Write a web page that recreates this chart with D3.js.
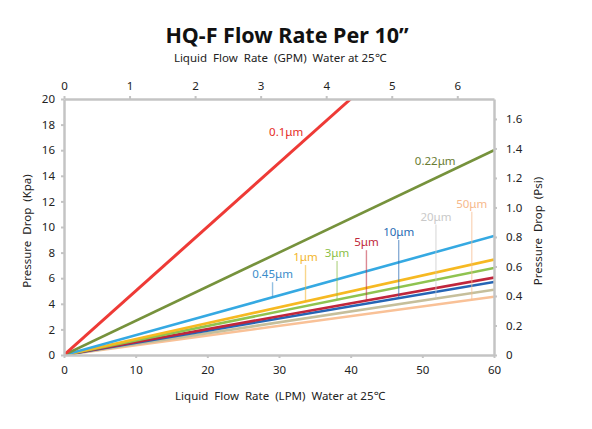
<!DOCTYPE html>
<html>
<head>
<meta charset="utf-8">
<script src="https://cdn.jsdelivr.net/npm/d3@7"></script>
<style>
  html, body { margin: 0; padding: 0; background: #fff; }
  svg { display: block; }
  text { font-family: "Noto Sans", "Open Sans", sans-serif; }
</style>
</head>
<body>
<svg id="chart" width="592" height="429"></svg>
<script>
// ---- data ----
const seriesNames = ["0.1μm", "0.22μm", "0.45μm", "1μm", "3μm", "5μm", "10μm", "20μm", "50μm"];
// end point of each straight line (flow LPM, pressure kPa); all start at origin
const endFlow     = [40, 60, 60, 60, 60, 60, 60, 60, 60];
const endPressure = [20, 16, 9.3, 7.45, 6.8, 6.05, 5.7, 5.1, 4.55];
const lineColors  = ["#ee3a36", "#76923c", "#35a9e2", "#f6b922", "#8fc350", "#c0263c", "#2565b5", "#c6bf9b", "#f9c197"];
const labelColors = ["#e52d27", "#6a7c33", "#3a8dca", "#f3b52c", "#8cbf48", "#c0283a", "#2a6cb4", "#c9c9c9", "#f6b98c"];
// label anchors in data coords (LPM, kPa)
const labelFlow     = [31.0, 51.8, 29.1, 33.7, 38.1, 42.2, 46.7, 51.9, 56.9];
const labelPressure = [17.1, 14.85, 6.0, 7.34, 7.66, 8.5, 9.3, 10.5, 11.5];
const hasLeader     = [false, false, true, true, true, true, true, true, true];

const lpmTicks = [0, 10, 20, 30, 40, 50, 60];
const gpmTicks = [0, 1, 2, 3, 4, 5, 6];
const kpaTicks = [0, 2, 4, 6, 8, 10, 12, 14, 16, 18, 20];
const psiTicks = [0, 0.2, 0.4, 0.6, 0.8, 1.0, 1.2, 1.4, 1.6];

// ---- layout ----
const svg = d3.select("#chart");
const L = 64, R = 494, T = 99, B = 355;

const x = d3.scaleLinear().domain([0, 60]).range([L, R]);
const xTop = d3.scaleLinear().domain([0, 6.56]).range([L, R]);
const y = d3.scaleLinear().domain([0, 20]).range([B, T]);
const yRight = d3.scaleLinear().domain([0, 1.735]).range([B, T]);

const axisColor = "#c4c4c4";
const textColor = "#222";

// series lines
const line = d3.line().x(d => x(d[0])).y(d => y(d[1]));
svg.append("clipPath").attr("id", "plotclip")
  .append("rect").attr("x", L).attr("y", T).attr("width", R - L).attr("height", B - T);

const g = svg.append("g").attr("clip-path", "url(#plotclip)");
const order = d3.range(seriesNames.length).reverse();
order.forEach(i => {
  g.append("path")
    .datum([[0, 0], [endFlow[i], endPressure[i]]])
    .attr("d", line)
    .attr("fill", "none")
    .attr("stroke", lineColors[i])
    .attr("stroke-width", i === 0 ? 3 : 2.6);
});

// leaders and labels
seriesNames.forEach((name, i) => {
  const lx = x(labelFlow[i]);
  const ly = y(labelPressure[i]);
  if (hasLeader[i]) {
    const yEnd = y(endPressure[i] / endFlow[i] * labelFlow[i]);
    svg.append("line")
      .attr("x1", lx).attr("x2", lx)
      .attr("y1", ly + 4).attr("y2", yEnd)
      .attr("stroke", labelColors[i])
      .attr("stroke-opacity", 0.55)
      .attr("stroke-width", 1.4);
  }
  svg.append("text")
    .attr("x", lx).attr("y", ly)
    .attr("text-anchor", "middle")
    .attr("font-size", 11.5)
    .attr("fill", labelColors[i])
    .text(name);
});

// axes
function styleAxis(sel) {
  sel.select(".domain").attr("stroke", axisColor).attr("stroke-width", 2.5);
  sel.selectAll(".tick line").attr("stroke", axisColor).attr("stroke-width", 2);
  sel.selectAll(".tick text").attr("fill", textColor).attr("font-size", 11.5)
     .attr("font-family", "'Noto Sans', 'Open Sans', sans-serif");
}

const axB = svg.append("g").attr("transform", `translate(0,${B})`)
  .call(d3.axisBottom(x).tickValues(lpmTicks).tickSize(3).tickPadding(8).tickSizeOuter(0));
styleAxis(axB);

const axT = svg.append("g").attr("transform", `translate(0,${T})`)
  .call(d3.axisTop(xTop).tickValues(gpmTicks).tickSize(3).tickPadding(6).tickSizeOuter(0)
    .tickFormat(d3.format("d")));
styleAxis(axT);

const axL = svg.append("g").attr("transform", `translate(${L},0)`)
  .call(d3.axisLeft(y).tickValues(kpaTicks).tickSize(3).tickPadding(6).tickSizeOuter(0));
styleAxis(axL);

const axR = svg.append("g").attr("transform", `translate(${R},0)`)
  .call(d3.axisRight(yRight).tickValues(psiTicks).tickSize(3).tickPadding(9).tickSizeOuter(0)
    .tickFormat(d => d === 0 ? "0" : d3.format(".1f")(d)));
styleAxis(axR);

// titles
svg.append("text")
  .attr("x", 287).attr("y", 43)
  .attr("text-anchor", "middle")
  .attr("font-size", 21.5).attr("font-weight", "bold")
  .attr("fill", "#111")
  .text("HQ-F Flow Rate Per 10”");

svg.append("text")
  .attr("x", 280).attr("y", 62)
  .attr("text-anchor", "middle")
  .attr("font-size", 11.5).attr("fill", textColor)
  .style("white-space", "pre")
  .text("Liquid  Flow  Rate  (GPM)  Water at 25℃");

svg.append("text")
  .attr("x", 280).attr("y", 400)
  .attr("text-anchor", "middle")
  .attr("font-size", 11.5).attr("fill", textColor)
  .style("white-space", "pre")
  .text("Liquid  Flow  Rate  (LPM)  Water at 25℃");

svg.append("text")
  .attr("transform", `translate(31,231) rotate(-90)`)
  .attr("text-anchor", "middle")
  .attr("font-size", 11.5).attr("fill", textColor)
  .style("white-space", "pre")
  .text("Pressure  Drop  (Kpa)");

svg.append("text")
  .attr("transform", `translate(542,231) rotate(-90)`)
  .attr("text-anchor", "middle")
  .attr("font-size", 11.5).attr("fill", textColor)
  .style("white-space", "pre")
  .text("Pressure  Drop  (Psi)");
</script>
</body>
</html>
